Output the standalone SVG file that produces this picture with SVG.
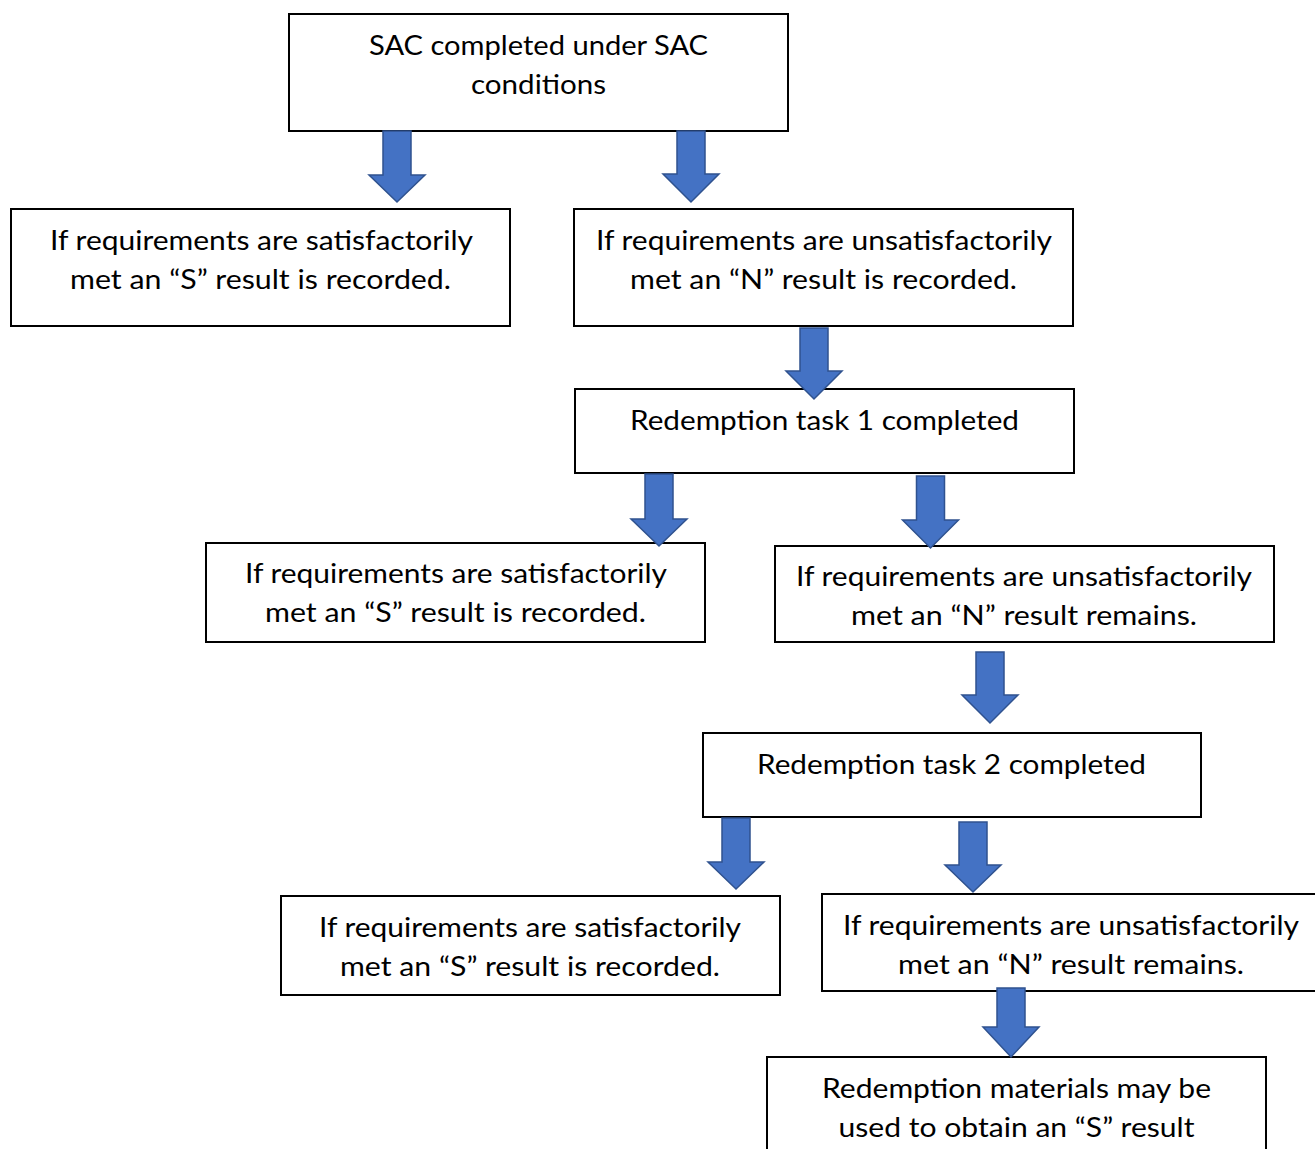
<svg xmlns="http://www.w3.org/2000/svg" width="1315" height="1149" viewBox="0 0 1315 1149">
<style>
.box{fill:#ffffff;stroke:#000000;stroke-width:2}
.t{font-family:Lato,"Liberation Sans",Arial,sans-serif;font-size:27px;fill:#000000;text-anchor:middle}
.arr{fill:#4472C4;stroke:#2F528F;stroke-width:1.5;stroke-linejoin:miter}
</style>
<rect x="0" y="0" width="1315" height="1149" fill="#ffffff"/>
<g id="nodes">
<g id="n1"><rect class="box" x="289" y="14" width="499" height="117"/>
<text class="t" x="538.5" y="55" textLength="339" lengthAdjust="spacingAndGlyphs">SAC completed under SAC</text>
<text class="t" x="538.5" y="94" textLength="135" lengthAdjust="spacingAndGlyphs">conditions</text></g>
<g id="n2"><rect class="box" x="11" y="209" width="499" height="117"/>
<text class="t" x="261.5" y="250" textLength="423" lengthAdjust="spacingAndGlyphs">If requirements are satisfactorily</text>
<text class="t" x="260.5" y="289" textLength="381" lengthAdjust="spacingAndGlyphs">met an “S” result is recorded.</text></g>
<g id="n3"><rect class="box" x="574" y="209" width="499" height="117"/>
<text class="t" x="824" y="250" textLength="456" lengthAdjust="spacingAndGlyphs">If requirements are unsatisfactorily</text>
<text class="t" x="823.5" y="289" textLength="387" lengthAdjust="spacingAndGlyphs">met an “N” result is recorded.</text></g>
<g id="n4"><rect class="box" x="575" y="389" width="499" height="84"/>
<text class="t" x="824.5" y="430" textLength="389" lengthAdjust="spacingAndGlyphs">Redemption task 1 completed</text></g>
<g id="n5"><rect class="box" x="206" y="543" width="499" height="99"/>
<text class="t" x="456" y="583" textLength="422" lengthAdjust="spacingAndGlyphs">If requirements are satisfactorily</text>
<text class="t" x="455.5" y="622" textLength="381" lengthAdjust="spacingAndGlyphs">met an “S” result is recorded.</text></g>
<g id="n6"><rect class="box" x="775" y="546" width="499" height="96"/>
<text class="t" x="1024" y="586" textLength="456" lengthAdjust="spacingAndGlyphs">If requirements are unsatisfactorily</text>
<text class="t" x="1024" y="625" textLength="346" lengthAdjust="spacingAndGlyphs">met an “N” result remains.</text></g>
<g id="n7"><rect class="box" x="703" y="733" width="498" height="84"/>
<text class="t" x="951.5" y="774" textLength="389" lengthAdjust="spacingAndGlyphs">Redemption task 2 completed</text></g>
<g id="n8"><rect class="box" x="281" y="896" width="499" height="99"/>
<text class="t" x="530" y="937" textLength="422" lengthAdjust="spacingAndGlyphs">If requirements are satisfactorily</text>
<text class="t" x="530" y="976" textLength="380" lengthAdjust="spacingAndGlyphs">met an “S” result is recorded.</text></g>
<g id="n9"><rect class="box" x="822" y="894" width="499" height="97"/>
<text class="t" x="1071" y="935" textLength="456" lengthAdjust="spacingAndGlyphs">If requirements are unsatisfactorily</text>
<text class="t" x="1071" y="974" textLength="346" lengthAdjust="spacingAndGlyphs">met an “N” result remains.</text></g>
<g id="n10"><rect class="box" x="767" y="1057" width="499" height="110"/>
<text class="t" x="1016.5" y="1098" textLength="389" lengthAdjust="spacingAndGlyphs">Redemption materials may be</text>
<text class="t" x="1016.5" y="1137" textLength="356" lengthAdjust="spacingAndGlyphs">used to obtain an “S” result</text></g>
</g>
<g id="connectors">
<path class="arr" d="M383,131 H411 V175 H425 L397,202 L369,175 H383 Z"/>
<path class="arr" d="M677,131 H705 V174 H719 L691,202 L663,174 H677 Z"/>
<path class="arr" d="M800,328 H828 V371 H842 L814,399 L786,371 H800 Z"/>
<path class="arr" d="M645,474 H673 V519 H687 L659,546 L631,519 H645 Z"/>
<path class="arr" d="M916.5,476 H944.5 V520 H958.5 L930.5,548 L902.5,520 H916.5 Z"/>
<path class="arr" d="M976,652 H1004 V695 H1018 L990,723 L962,695 H976 Z"/>
<path class="arr" d="M722,818 H750 V862 H764 L736,889 L708,862 H722 Z"/>
<path class="arr" d="M959,822 H987 V865 H1001 L973,892 L945,865 H959 Z"/>
<path class="arr" d="M997,988 H1025 V1027 H1039 L1011,1057 L983,1027 H997 Z"/>
</g>
</svg>
